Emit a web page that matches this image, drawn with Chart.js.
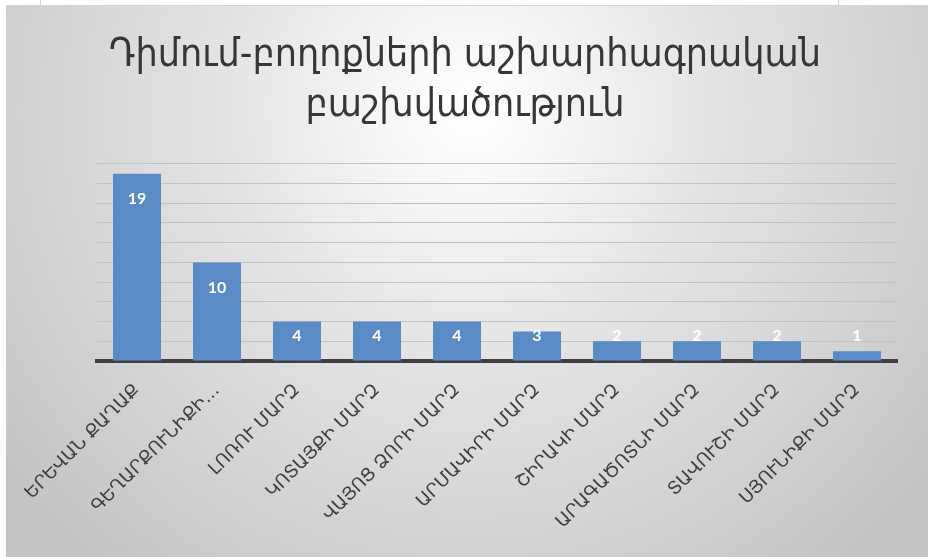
<!DOCTYPE html>
<html>
<head>
<meta charset="utf-8">
<script src="https://cdn.jsdelivr.net/npm/chart.js@4.4.1/dist/chart.umd.min.js"></script>
<style>
  html, body { margin: 0; padding: 0; background: #ffffff; }
  #wrap { width: 928px; height: 557px; }
</style>
</head>
<body>
<div id="wrap"><canvas id="c" width="928" height="557"></canvas></div>
<script>
// Regions and number of complaints per region
const regions = [
  'ԵՐԵՎԱՆ ՔԱՂԱՔ',
  'ԳԵՂԱՐՔՈՒՆԻՔԻ…',
  'ԼՈՌՈՒ ՄԱՐԶ',
  'ԿՈՏԱՅՔԻ ՄԱՐԶ',
  'ՎԱՅՈՑ ՁՈՐԻ ՄԱՐԶ',
  'ԱՐՄԱՎԻՐԻ ՄԱՐԶ',
  'ՇԻՐԱԿԻ ՄԱՐԶ',
  'ԱՐԱԳԱԾՈՏՆԻ ՄԱՐԶ',
  'ՏԱՎՈՒՇԻ ՄԱՐԶ',
  'ՍՅՈՒՆԻՔԻ ՄԱՐԶ'
];
const complaints = [19, 10, 4, 4, 4, 3, 2, 2, 2, 1];
const titleLines = ['Դիմում-բողոքների աշխարհագրական', 'բաշխվածություն'];
const yMin = 0;
const yMax = 20;
const yStep = 2;

// Soft grey backdrop with a bright spot behind the title
const backdrop = {
  id: 'backdrop',
  beforeDraw(chart) {
    const ctx = chart.ctx;
    const w = chart.width, h = chart.height;
    ctx.save();
    ctx.fillStyle = '#ffffff';
    ctx.fillRect(0, 0, w, h);
    const g = ctx.createRadialGradient(470, 110, 10, 470, 110, 600);
    g.addColorStop(0, '#ffffff');
    g.addColorStop(0.4, '#e4e4e4');
    g.addColorStop(1, '#c3c3c3');
    ctx.fillStyle = g;
    ctx.fillRect(6, 6, w - 6, h - 6);
    ctx.fillStyle = '#d4d4d4';
    ctx.fillRect(6, 5, w - 6, 1);
    ctx.fillRect(40, 0, 1, 5);
    ctx.fillRect(838, 0, 1, 5);
    ctx.restore();
  }
};

// White value labels placed inside the top of each bar
const valueLabels = {
  id: 'valueLabels',
  afterDatasetsDraw(chart) {
    const ctx = chart.ctx;
    const meta = chart.getDatasetMeta(0);
    const data = chart.data.datasets[0].data;
    ctx.save();
    ctx.fillStyle = '#ffffff';
    ctx.font = 'bold 16px Lato, "Liberation Sans", sans-serif';
    ctx.textAlign = 'center';
    ctx.textBaseline = 'middle';
    meta.data.forEach((bar, i) => {
      const y = Math.min(bar.y + 25, bar.base - 25);
      ctx.fillText(String(data[i]), bar.x, y);
    });
    ctx.restore();
  }
};

new Chart(document.getElementById('c'), {
  type: 'bar',
  data: {
    labels: regions,
    datasets: [{
      data: complaints,
      backgroundColor: '#5b8bc7',
      borderWidth: 0,
      categoryPercentage: 1.0,
      barPercentage: 0.6
    }]
  },
  options: {
    responsive: false,
    animation: false,
    layout: { padding: { left: 33, right: 31, top: 0, bottom: 0 } },
    plugins: {
      legend: { display: false },
      tooltip: { enabled: false },
      title: {
        display: true,
        text: titleLines,
        color: '#363636',
        font: { family: '"DejaVu Sans Condensed", "DejaVu Sans", sans-serif', size: 39, weight: 'normal', lineHeight: 1.28 },
        padding: { top: 31, bottom: 33 }
      }
    },
    scales: {
      x: {
        grid: { display: false, drawTicks: false },
        border: { display: true, color: '#404040', width: 4 },
        ticks: {
          color: '#404040',
          font: { family: '"DejaVu Sans", sans-serif', size: 18 },
          minRotation: 45,
          maxRotation: 45,
          autoSkip: false,
          padding: 19
        },
        afterFit(scale) { scale.height = 196; }
      },
      y: {
        min: yMin,
        max: yMax,
        ticks: { display: false, stepSize: yStep },
        grid: { color: '#c2c2c2', lineWidth: 1, drawTicks: false },
        border: { display: false },
        afterFit(scale) { scale.width = 64; }
      }
    }
  },
  plugins: [backdrop, valueLabels]
});
</script>
</body>
</html>
